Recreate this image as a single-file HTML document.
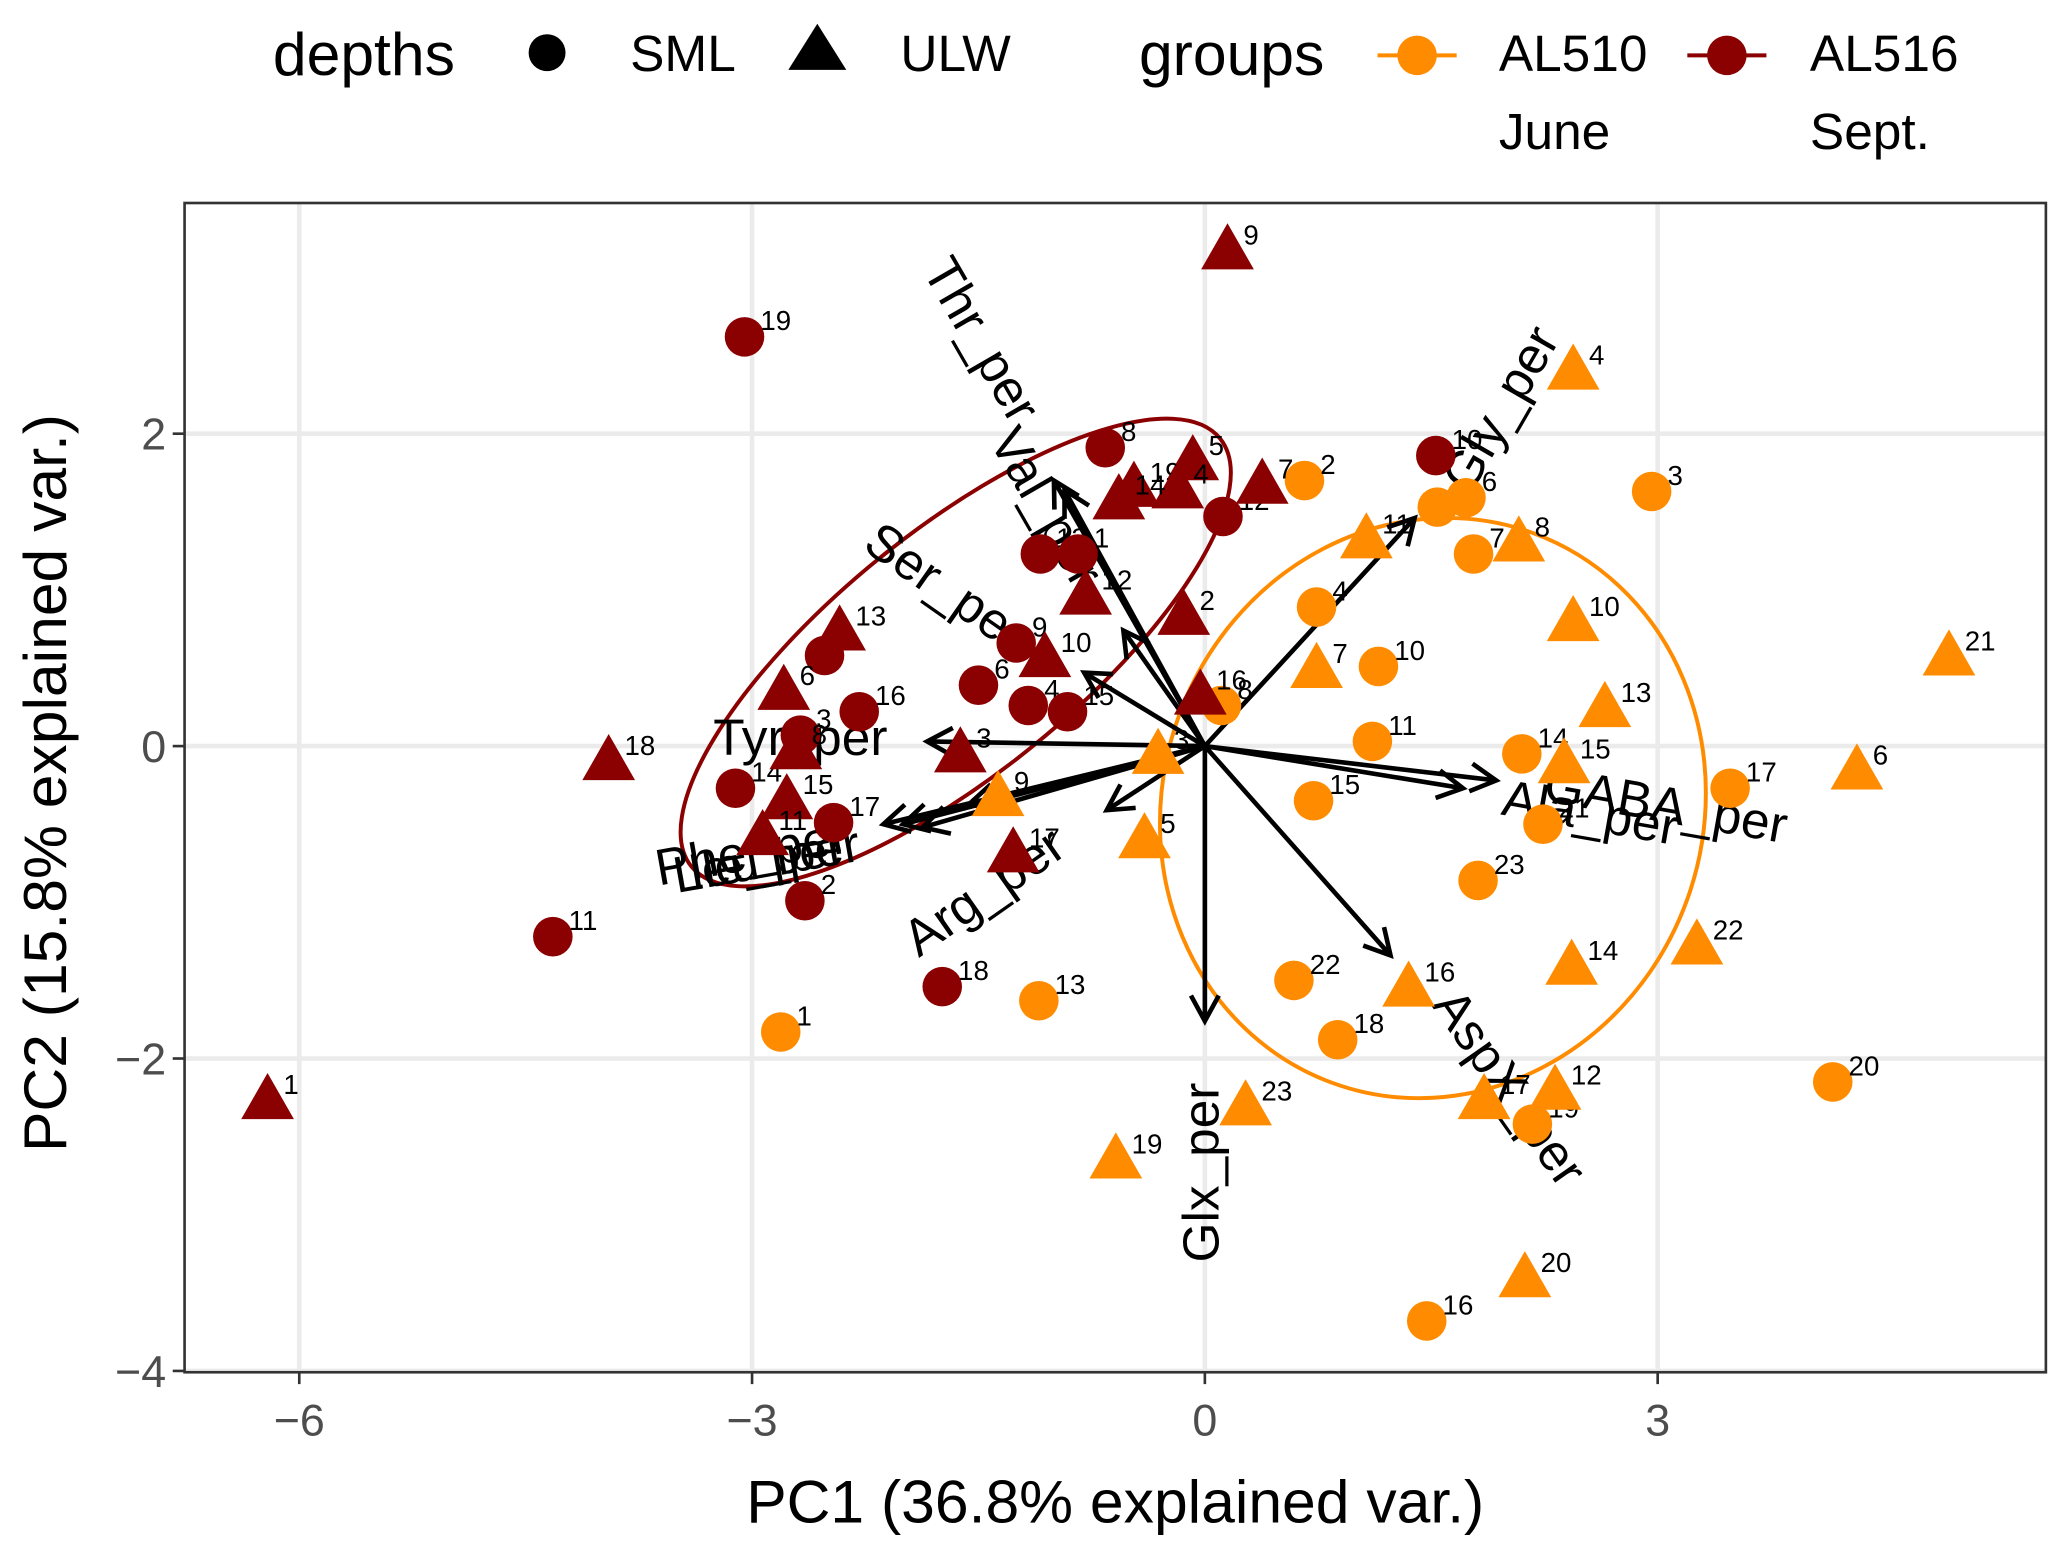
<!DOCTYPE html>
<html><head><meta charset="utf-8">
<style>
html,body{margin:0;padding:0;background:#fff;}
svg{display:block;font-family:"Liberation Sans",Arial,sans-serif;}
</style></head>
<body>
<svg id="chart" width="2067" height="1551" viewBox="0 0 1568 1176.6" xmlns="http://www.w3.org/2000/svg">
<rect x="0" y="0" width="1568" height="1177" fill="#fff"/>
<g id="legend">
  <text x="207" y="57" font-size="46">depths</text>
  <circle cx="415" cy="40" r="14" fill="#000"/>
  <text x="478" y="54" font-size="39">SML</text>
  <polygon points="620,18 642,53 598,53" fill="#000"/>
  <text x="683" y="54" font-size="39">ULW</text>
  <text x="864" y="57" font-size="46">groups</text>
  <line x1="1045" y1="42" x2="1105" y2="42" stroke="#FF8C00" stroke-width="3"/>
  <circle cx="1075" cy="42" r="15" fill="#FF8C00"/>
  <text x="1137" y="54" font-size="39">AL510</text>
  <text x="1137" y="113" font-size="39">June</text>
  <line x1="1280" y1="42" x2="1340" y2="42" stroke="#8B0000" stroke-width="3"/>
  <circle cx="1310" cy="42" r="15" fill="#8B0000"/>
  <text x="1373" y="54" font-size="39">AL516</text>
  <text x="1373" y="113" font-size="39">Sept.</text>
</g>
<g id="grid"></g>
<g id="ell"></g>
<g id="arrows"></g>
<g id="pts"></g>
<g id="axes"></g>
<text x="846" y="1155" font-size="46" text-anchor="middle">PC1 (36.8% explained var.)</text>
<text transform="translate(50,594) rotate(-90)" font-size="46" text-anchor="middle">PC2 (15.8% explained var.)</text>
</svg>
<script>
const xTicks=[-6,-3,0,3];
const yTicks=[2,0,-2,-4];
const arrowNames=["Thr_per","Val_per","Ser_per","Gly_per","Tyr_per","Phe_per","Leu_per","Ile_per","Arg_per","Ala_per","GABA_per","AspX_per","Glx_per","s1","s2"];
const arrowX=[-1.0,-0.93,-0.54,1.39,-1.84,-2.13,-2.0,-1.87,-1.56,1.71,1.93,1.23,0.0,-0.80,-0.65];
const arrowY=[1.70,1.64,0.74,1.46,0.03,-0.50,-0.50,-0.52,-0.37,-0.27,-0.22,-1.34,-1.76,0.47,-0.41];
const labelX=[-1.5,-1.07,-1.73,1.98,-2.68,-3.0,-2.9,-2.9,-1.45,2.55,3.05,2.0,0.0,null,null];
const labelY=[2.59,1.52,1.0,2.15,0.03,-0.7,-0.75,-0.75,-0.95,-0.45,-0.4,-2.2,-2.73,null,null];
const labelRot=[60,60,35,-60,0,-10,-10,-10,-35,10,10,55,-90,0,0];
const redCircleLbl=["19","8","10","12","13","1","9","6","4","15","7","16","3","14","17","2","11","18"];
const redCircleX=[-3.05,-0.66,1.53,0.12,-1.09,-0.84,-1.25,-1.50,-1.17,-0.91,-2.52,-2.29,-2.68,-3.11,-2.46,-2.65,-4.32,-1.74];
const redCircleY=[2.62,1.91,1.86,1.47,1.23,1.23,0.66,0.39,0.26,0.22,0.58,0.22,0.07,-0.27,-0.49,-0.99,-1.22,-1.54];
const redTriLbl=["9","5","19","4","14","7","12","2","13","10","16","6","8","3","18","15","11","17","1"];
const redTriX=[0.15,-0.08,-0.47,-0.18,-0.57,0.38,-0.79,-0.14,-2.42,-1.06,-0.03,-2.79,-2.71,-1.62,-3.95,-2.77,-2.93,-1.27,-6.21];
const redTriY=[3.17,1.82,1.65,1.64,1.57,1.67,0.96,0.83,0.73,0.56,0.32,0.35,-0.03,-0.05,-0.10,-0.35,-0.58,-0.69,-2.27];
const orCircleLbl=["2","9","6","3","7","4","10","8","11","14","17","21","15","23","22","18","13","1","19","20","16"];
const orCircleX=[0.66,1.54,1.73,2.96,1.78,0.74,1.15,0.11,1.11,2.10,3.48,2.24,0.72,1.81,0.59,0.88,-1.10,-2.81,2.17,4.16,1.47];
const orCircleY=[1.70,1.53,1.59,1.63,1.23,0.89,0.51,0.26,0.03,-0.05,-0.27,-0.50,-0.35,-0.86,-1.50,-1.88,-1.63,-1.83,-2.42,-2.15,-3.68];
const orTriLbl=["4","11","8","10","7","13","21","6","15","3","9","5","14","22","16","17","12","23","19","20"];
const orTriX=[2.44,1.07,2.08,2.44,0.74,2.65,4.93,4.32,2.38,-0.31,-1.37,-0.40,2.43,3.26,1.35,1.85,2.32,0.27,-0.59,2.12];
const orTriY=[2.40,1.32,1.30,0.79,0.49,0.24,0.57,-0.16,-0.12,-0.06,-0.33,-0.60,-1.41,-1.28,-1.55,-2.27,-2.21,-2.31,-2.65,-3.41];

const NS="http://www.w3.org/2000/svg";
const X0=914,XS=114.5,Y0=566,YS=118.5;
const PL=140,PR=1552,PT=154,PB=1041;
function sx(v){return X0+v*XS;}
function sy(v){return Y0-v*YS;}
function mk(tag,attrs,parent){const e=document.createElementNS(NS,tag);for(const k in attrs)e.setAttribute(k,attrs[k]);parent.appendChild(e);return e;}
const grid=document.getElementById('grid'),axes=document.getElementById('axes'),ell=document.getElementById('ell'),arr=document.getElementById('arrows'),pts=document.getElementById('pts');
mk('rect',{x:PL,y:PT,width:PR-PL,height:PB-PT,fill:'#fff'},grid);
xTicks.forEach(v=>{
  const l=mk('line',{x1:sx(v),x2:sx(v),y1:PT,y2:PB,stroke:'#ebebeb','stroke-width':3.5},grid);
  
  
  mk('line',{x1:sx(v),x2:sx(v),y1:PB,y2:PB+9,stroke:'#333','stroke-width':2},axes);
  const t=mk('text',{x:sx(v),y:PB+48,'font-size':34,fill:'#4d4d4d','text-anchor':'middle'},axes);
  t.textContent=v<0?'\u2212'+(-v):String(v);
  
  
});
yTicks.forEach(v=>{
  const l=mk('line',{x1:PL,x2:PR,y1:sy(v),y2:sy(v),stroke:'#ebebeb','stroke-width':3.5},grid);
  
  
  mk('line',{x1:PL-9,x2:PL,y1:sy(v),y2:sy(v),stroke:'#333','stroke-width':2},axes);
  const t=mk('text',{x:PL-14,y:sy(v)+12,'font-size':34,fill:'#4d4d4d','text-anchor':'end'},axes);
  t.textContent=v<0?'\u2212'+(-v):String(v);
  
  
});
const fr=mk('rect',{x:PL,y:PT,width:PR-PL,height:PB-PT,fill:'none',stroke:'#333','stroke-width':2},axes);


const e1=mk('ellipse',{cx:725,cy:495,rx:258,ry:92,transform:'rotate(-39 725 495)',fill:'none',stroke:'#8B0000','stroke-width':3},ell);


const e2=mk('ellipse',{cx:1087,cy:613,rx:205,ry:222,transform:'rotate(20 1087 613)',fill:'none',stroke:'#FF8C00','stroke-width':3},ell);


arrowNames.forEach((n,i)=>{
  const x1=sx(0),y1=sy(0),x2=sx(arrowX[i]),y2=sy(arrowY[i]);
  const g=mk('g',{},arr);
  
  
  mk('line',{x1:x1,y1:y1,x2:x2,y2:y2,stroke:'#000','stroke-width':3.5},g);
  const a=Math.atan2(y2-y1,x2-x1),h=22;
  const p=[[x2-h*Math.cos(a-0.5),y2-h*Math.sin(a-0.5)],[x2,y2],[x2-h*Math.cos(a+0.5),y2-h*Math.sin(a+0.5)]];
  mk('polyline',{points:p.map(q=>q.join(',')).join(' '),fill:'none',stroke:'#000','stroke-width':3.5},g);
  if(labelX[i]!==null){
    const lx=sx(labelX[i]),ly=sy(labelY[i]);
    const t=mk('text',{x:lx,y:ly,'font-size':39,'text-anchor':'middle','dominant-baseline':'middle',transform:`rotate(${labelRot[i]} ${lx} ${ly})`},g);
    t.textContent=n;
  }
});
function drawSet(xs,ys,lbls,color,shape,name){
  xs.forEach((v,i)=>{
    const cx=sx(v),cy=sy(ys[i]);
    const g=mk('g',{},pts);
    
    
    if(shape==='c') mk('circle',{cx:cx,cy:cy,r:15,fill:color},g);
    else mk('polygon',{points:`${cx},${cy-21} ${cx+20},${cy+14} ${cx-20},${cy+14}`,fill:color},g);
    const t=mk('text',{x:cx+12,y:cy-5,'font-size':21,fill:'#000'},g);
    t.textContent=lbls[i];
  });
}
drawSet(orCircleX,orCircleY,orCircleLbl,'#FF8C00','c','al510-sml');
drawSet(orTriX,orTriY,orTriLbl,'#FF8C00','t','al510-ulw');
drawSet(redCircleX,redCircleY,redCircleLbl,'#8B0000','c','al516-sml');
drawSet(redTriX,redTriY,redTriLbl,'#8B0000','t','al516-ulw');
</script>
</body></html>
